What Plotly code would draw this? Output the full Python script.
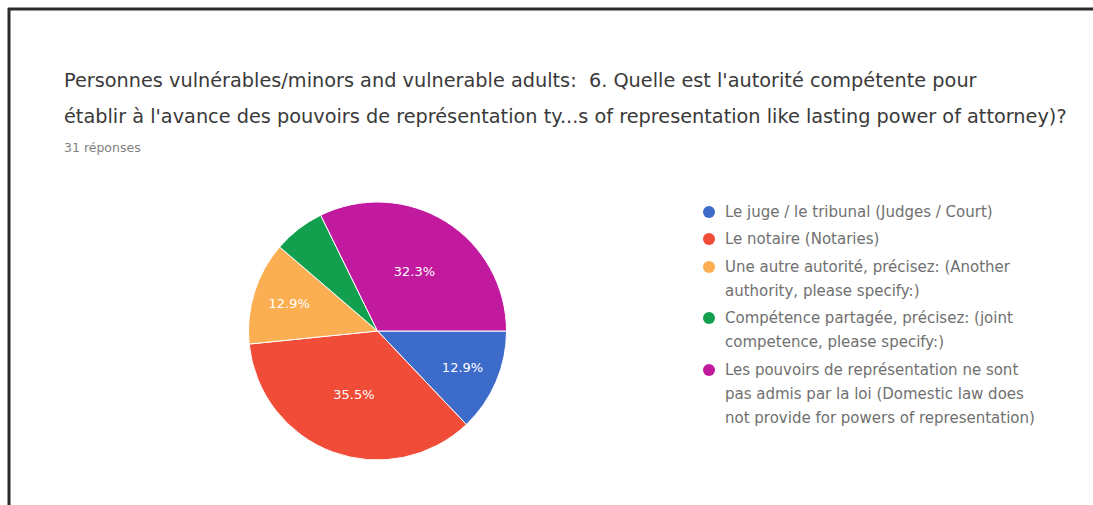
import plotly.graph_objects as go

# ---- data ----
categories = [
    "Le juge / le tribunal (Judges / Court)",
    "Le notaire (Notaries)",
    "Une autre autorité, précisez: (Another authority, please specify:)",
    "Compétence partagée, précisez: (joint competence, please specify:)",
    "Les pouvoirs de représentation ne sont pas admis par la loi (Domestic law does not provide for powers of representation)",
]
legend_lines = [
    ["Le juge / le tribunal (Judges / Court)"],
    ["Le notaire (Notaries)"],
    ["Une autre autorité, précisez: (Another", "authority, please specify:)"],
    ["Compétence partagée, précisez: (joint", "competence, please specify:)"],
    ["Les pouvoirs de représentation ne sont", "pas admis par la loi (Domestic law does",
     "not provide for powers of representation)"],
]
counts = [4, 11, 4, 2, 10]
colors = ["#3c6bca", "#f04c38", "#fcae52", "#12a04f", "#c21a9e"]
title_lines = [
    "Personnes vulnérables/minors and vulnerable adults:  6. Quelle est l'autorité compétente pour",
    "établir à l'avance des pouvoirs de représentation ty...s of representation like lasting power of attorney)?",
]
subtitle = "31 réponses"

W, H = 1093, 505
total = sum(counts)
templates = ["%{percent:.1%}" if c / total >= 0.1 else "" for c in counts]

fig = go.Figure()
fig.add_trace(go.Pie(
    labels=categories, values=counts, sort=False, direction="clockwise",
    rotation=90,
    marker=dict(colors=colors, line=dict(color="white", width=1)),
    texttemplate=templates, textposition="inside",
    insidetextorientation="horizontal",
    textfont=dict(family="DejaVu Sans", size=13, color="white"),
    domain=dict(x=[248 / W, 507 / W], y=[(H - 460) / H, (H - 202) / H]),
    showlegend=False, hoverinfo="label+percent",
))

def py(p):
    return 1 - p / H

annotations = []
for line, ypx in zip(title_lines, [80, 117]):
    annotations.append(dict(text=line, x=62 / W, y=py(ypx), xref="paper", yref="paper",
                            xanchor="left", yanchor="middle", showarrow=False,
                            font=dict(family="DejaVu Sans", size=19.3, color="#3a3a3a")))
annotations.append(dict(text=subtitle, x=62 / W, y=py(147), xref="paper", yref="paper",
                        xanchor="left", yanchor="middle", showarrow=False,
                        font=dict(family="DejaVu Sans", size=12.5, color="#808080")))

shapes = [
    dict(type="line", xref="paper", yref="paper", x0=8 / W, x1=1, y0=py(9), y1=py(9),
         line=dict(color="#2b2b2b", width=3)),
    dict(type="line", xref="paper", yref="paper", x0=9 / W, x1=9 / W, y0=py(8), y1=0,
         line=dict(color="#2b2b2b", width=3)),
]

item_y = [212, 239, 267, 318, 370]
line_gap = 24
for lines, col, y0 in zip(legend_lines, colors, item_y):
    shapes.append(dict(type="circle", xref="paper", yref="paper",
                       x0=(709 - 6) / W, x1=(709 + 6) / W, y0=py(y0 + 6), y1=py(y0 - 6),
                       fillcolor=col, line=dict(width=0)))
    for k, t in enumerate(lines):
        annotations.append(dict(text=t, x=723 / W, y=py(y0 + k * line_gap), xref="paper",
                                yref="paper", xanchor="left", yanchor="middle", showarrow=False,
                                font=dict(family="DejaVu Sans", size=15, color="#707070")))

fig.update_layout(width=W, height=H, margin=dict(l=0, r=0, t=0, b=0),
                  paper_bgcolor="white", plot_bgcolor="white",
                  annotations=annotations, shapes=shapes)
fig.write_html("out.html", config={"displayModeBar": False},
               post_script="document.body.style.margin='0';document.body.style.overflow='hidden';")
